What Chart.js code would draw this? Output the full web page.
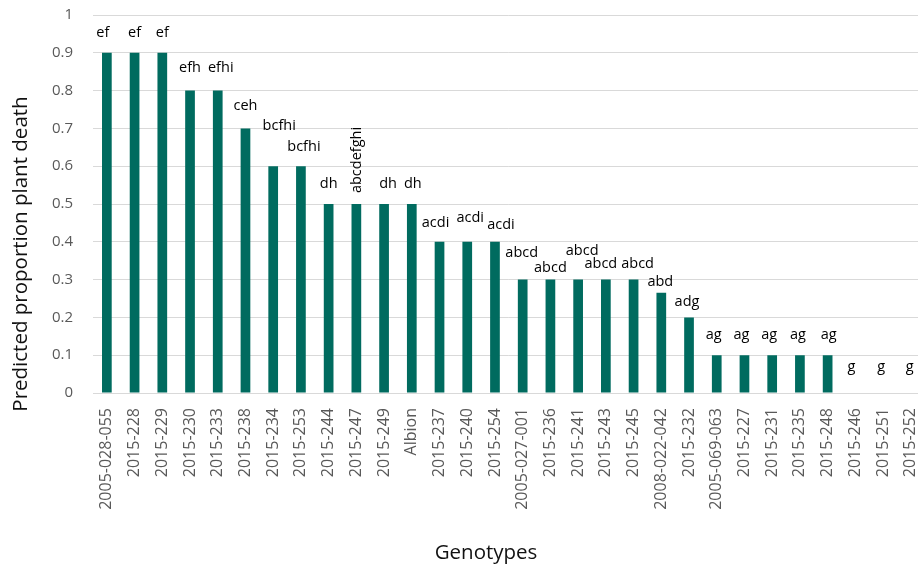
<!DOCTYPE html>
<html>
<head>
<meta charset="utf-8">
<script src="https://cdn.jsdelivr.net/npm/chart.js@4.4.1/dist/chart.umd.min.js"></script>
<style>
  html, body { margin: 0; padding: 0; background: #fff; overflow: hidden; }
  #wrap { width: 930px; height: 572px; position: relative; }
</style>
</head>
<body>
<div id="wrap"><canvas id="chart"></canvas></div>
<script>
// genotype names, in plotted order
const genotypes = [
  '2005-028-055', '2015-228', '2015-229', '2015-230', '2015-233', '2015-238',
  '2015-234', '2015-253', '2015-244', '2015-247', '2015-249', 'Albion',
  '2015-237', '2015-240', '2015-254', '2005-027-001', '2015-236', '2015-241',
  '2015-243', '2015-245', '2008-022-042', '2015-232', '2005-069-063', '2015-227',
  '2015-231', '2015-235', '2015-248', '2015-246', '2015-251', '2015-252'
];

// predicted proportion of plant death
const deathProportion = [
  0.9, 0.9, 0.9, 0.8, 0.8, 0.7,
  0.6, 0.6, 0.5, 0.5, 0.5, 0.5,
  0.4, 0.4, 0.4, 0.3, 0.3, 0.3,
  0.3, 0.3, 0.265, 0.2, 0.1, 0.1,
  0.1, 0.1, 0.1, 0, 0, 0
];

// significance letters above each bar
const letterGroups = [
  'ef', 'ef', 'ef', 'efh', 'efhi', 'ceh',
  'bcfhi', 'bcfhi', 'dh', 'abcdefghi', 'dh', 'dh',
  'acdi', 'acdi', 'acdi', 'abcd', 'abcd', 'abcd',
  'abcd', 'abcd', 'abd', 'adg', 'ag', 'ag',
  'ag', 'ag', 'ag', 'g', 'g', 'g'
];

const yTicks = [0, 0.1, 0.2, 0.3, 0.4, 0.5, 0.6, 0.7, 0.8, 0.9, 1];

// label nudges (px) relative to the top of each bar, as placed in the original
const labelNudge = [
  [-4, -20], [0, -20], [0, -20], [0, -23], [3, -23], [0, -23],
  [6, -40], [3, -19], [0, -20], [1, -44], [4, -20], [1, -20],
  [-4, -19], [3, -24], [6, -17], [-1, -27], [0, -12], [4, -29],
  [-5, -16], [4, -16], [-1, -11], [-2, -16], [-3, -20], [-3, -20],
  [-3, -20], [-2, -20], [1, -20], [-4, -26], [-2, -26], [-1, -26]
];
const rotatedLabels = [9];

const FONT = "'Open Sans', 'Noto Sans', sans-serif";

const letterPlugin = {
  id: 'letters',
  afterDatasetsDraw(chart) {
    const ctx = chart.ctx;
    const bars = chart.getDatasetMeta(0).data;
    ctx.save();
    ctx.fillStyle = '#000';
    ctx.font = '14.5px ' + FONT;
    ctx.textAlign = 'center';
    ctx.textBaseline = 'middle';
    bars.forEach(function(bar, i) {
      const x = bar.x + labelNudge[i][0];
      const y = bar.y + labelNudge[i][1];
      if (rotatedLabels.includes(i)) {
        ctx.save();
        ctx.translate(x, y);
        ctx.rotate(-Math.PI / 2);
        ctx.fillText(letterGroups[i], 0, 0);
        ctx.restore();
      } else {
        ctx.fillText(letterGroups[i], x, y);
      }
    });
    ctx.restore();
  }
};

const titlePlugin = {
  id: 'axisTitles',
  afterDraw(chart) {
    const ctx = chart.ctx;
    ctx.save();
    ctx.fillStyle = '#111';
    ctx.font = '20.5px ' + FONT;
    ctx.textAlign = 'center';
    ctx.textBaseline = 'middle';
    ctx.fillText('Genotypes', 486, 553);
    ctx.translate(21, 254);
    ctx.rotate(-Math.PI / 2);
    ctx.fillText('Predicted proportion plant death', 0, 0);
    ctx.restore();
  }
};

new Chart(document.getElementById('chart'), {
  type: 'bar',
  data: {
    labels: genotypes,
    datasets: [{
      data: deathProportion,
      backgroundColor: '#006B5F',
      borderWidth: 0,
      barPercentage: 0.35,
      categoryPercentage: 1
    }]
  },
  options: {
    responsive: true,
    maintainAspectRatio: false,
    animation: false,
    layout: { padding: { top: 15, left: 0, right: 0, bottom: 0 } },
    plugins: {
      legend: { display: false },
      tooltip: { enabled: false }
    },
    scales: {
      x: {
        // invisible tick marks give the gap between axis and labels
        grid: { display: true, drawOnChartArea: false, drawTicks: true, tickLength: 15, tickColor: 'rgba(0,0,0,0)', color: 'rgba(0,0,0,0)' },
        border: { display: true, color: '#D9D9D9', width: 1 },
        ticks: {
          autoSkip: false,
          minRotation: 90,
          maxRotation: 90,
          padding: 0,
          color: '#595959',
          font: { family: FONT, size: 16 }
        },
        afterFit(scale) { scale.height = 179; }
      },
      y: {
        min: 0,
        max: 1,
        afterBuildTicks(scale) {
          scale.ticks = yTicks.map(function(v) { return { value: v }; });
        },
        grid: { color: '#D9D9D9', lineWidth: 1, drawTicks: true, tickLength: 20, tickColor: 'rgba(0,0,0,0)' },
        border: { display: false },
        ticks: {
          padding: 0,
          color: '#595959',
          font: { family: FONT, size: 15 },
          callback: function(v) { return String(Math.round(v * 10) / 10); }
        },
        afterFit(scale) { scale.width = 93; }
      }
    }
  },
  plugins: [letterPlugin, titlePlugin]
});
</script>
</body>
</html>
